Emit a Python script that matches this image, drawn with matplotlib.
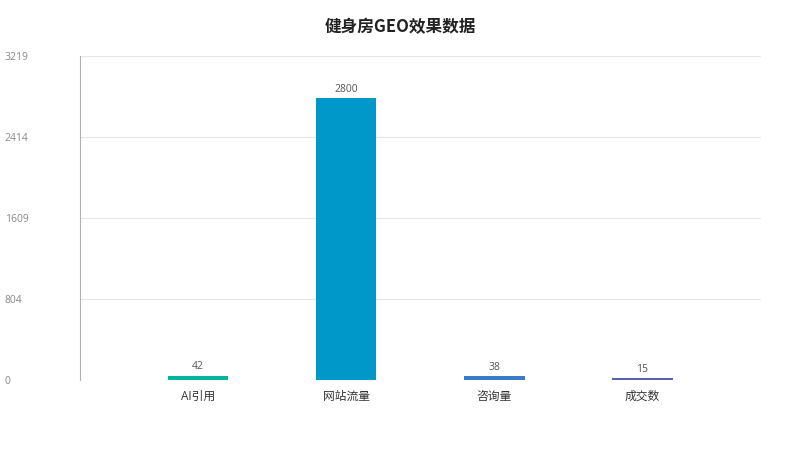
import matplotlib
matplotlib.use("Agg")
import matplotlib.pyplot as plt
import matplotlib.transforms as mtransforms

plt.rcParams['font.family'] = ['Open Sans', 'Noto Sans CJK SC', 'DejaVu Sans']

# 数据
categories = ['AI引用', '网站流量', '咨询量', '成交数']
values = [42, 2800, 38, 15]
colors = ['#00b4a0', '#0097c9', '#3a7bc8', '#5b5fb5']
y_max = 3219

fig = plt.figure(figsize=(8, 4.5), dpi=100)
ax = fig.add_axes([0.1, 0.1556, 0.851, 0.72])

x = list(range(len(categories)))
bars = ax.bar(x, values, width=0.41, color=colors, zorder=3)

ax.set_xlim(-0.797, 3.8)
ax.set_ylim(0, y_max)

# 网格线
ticks = [y_max * i / 4 for i in range(5)]
for t in ticks:
    ax.axhline(t, color='#e6e6e6', linewidth=0.8, zorder=1)

for s in ['top', 'right', 'bottom']:
    ax.spines[s].set_visible(False)
ax.spines['left'].set_color('#b0b0b0')
ax.spines['left'].set_linewidth(0.8)

ax.set_yticks([])
ax.set_xticks(x)
ax.set_xticklabels(categories, fontsize=8.5, color='#333333')
ax.tick_params(axis='x', length=0, pad=7)

# y轴标签靠左
trans = mtransforms.blended_transform_factory(fig.transFigure, ax.transData)
offset = mtransforms.ScaledTranslation(0, -2 / 100, fig.dpi_scale_trans)
for t in ticks:
    ax.text(0.006, t, str(int(t)), transform=trans + offset, ha='left', va='center',
            fontsize=7.5, color='#888888')

# 数值标签
for b, v in zip(bars, values):
    ax.annotate(str(v), (b.get_x() + b.get_width() / 2, v), xytext=(0, 2.5),
                textcoords='offset points', ha='center', va='bottom',
                fontsize=7.5, color='#555555')

fig.text(0.5, 0.94, '健身房GEO效果数据', ha='center', va='center',
         fontsize=12, fontweight='bold', color='#222222',
         family=['Noto Sans CJK SC', 'DejaVu Sans'])

fig.savefig('out.png', dpi=100)
